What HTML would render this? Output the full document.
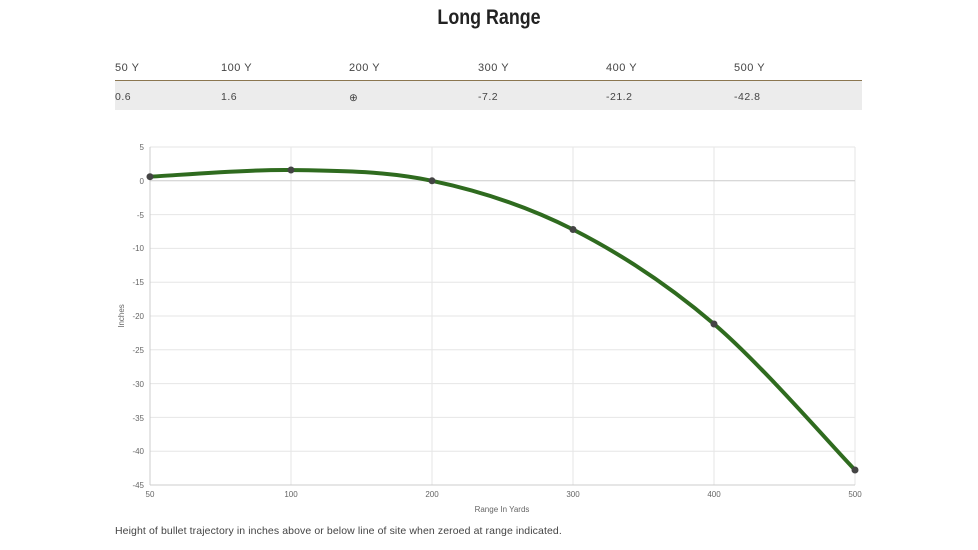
<!DOCTYPE html>
<html><head><meta charset="utf-8"><style>
body{margin:0;width:978px;height:550px;background:#fff;font-family:"Liberation Sans",sans-serif;position:relative;overflow:hidden}
.t{position:absolute;left:0;width:978px;top:6px;text-align:center;font-family:"Liberation Sans Narrow","Liberation Sans",sans-serif;font-weight:bold;font-size:21px;color:#222;transform:scaleX(0.85)}
.h,.r{position:absolute;font-size:11px;color:#444;letter-spacing:0.5px}
.h{top:62px}.r{top:91px;font-size:10.5px}
.line{position:absolute;left:115px;width:747px;top:80px;height:1px;background:#8b7650}
.bg{position:absolute;left:115px;width:747px;top:81px;height:29px;background:#ececec}
.cap{position:absolute;left:115px;top:525px;font-size:10.5px;color:#444;letter-spacing:0.1px}
</style></head><body>
<div class="t">Long Range</div>
<div class="bg"></div><div class="line"></div>
<div class="h" style="left:115px">50 Y</div><div class="h" style="left:221px">100 Y</div><div class="h" style="left:349px">200 Y</div><div class="h" style="left:478px">300 Y</div><div class="h" style="left:606px">400 Y</div><div class="h" style="left:734px">500 Y</div>
<div class="r" style="left:115px">0.6</div><div class="r" style="left:221px">1.6</div><div class="r" style="left:349px;top:92px">⊕</div><div class="r" style="left:478px">-7.2</div><div class="r" style="left:606px">-21.2</div><div class="r" style="left:734px">-42.8</div>
<svg width="978" height="550" style="position:absolute;left:0;top:0" font-family="Liberation Sans, sans-serif">
<g stroke="#e6e6e6" stroke-width="1">
<line x1="150" x2="855" y1="147" y2="147"/><line x1="150" x2="855" y1="214.6" y2="214.6"/><line x1="150" x2="855" y1="248.4" y2="248.4"/><line x1="150" x2="855" y1="282.2" y2="282.2"/><line x1="150" x2="855" y1="316" y2="316"/><line x1="150" x2="855" y1="349.8" y2="349.8"/><line x1="150" x2="855" y1="383.6" y2="383.6"/><line x1="150" x2="855" y1="417.4" y2="417.4"/><line x1="150" x2="855" y1="451.2" y2="451.2"/>
<line x1="291" x2="291" y1="147" y2="485"/><line x1="432" x2="432" y1="147" y2="485"/><line x1="573" x2="573" y1="147" y2="485"/><line x1="714" x2="714" y1="147" y2="485"/><line x1="855" x2="855" y1="147" y2="485"/>
</g>
<line x1="150" x2="855" y1="180.8" y2="180.8" stroke="#ccc"/>
<line x1="150" x2="855" y1="485" y2="485" stroke="#ccc"/>
<line x1="150" x2="150" y1="147" y2="485" stroke="#ccc"/>
<g font-size="8" fill="#666" text-anchor="end">
<text x="144" y="150">5</text><text x="144" y="184">0</text><text x="144" y="218">-5</text><text x="144" y="251">-10</text><text x="144" y="285">-15</text><text x="144" y="319">-20</text><text x="144" y="353">-25</text><text x="144" y="387">-30</text><text x="144" y="421">-35</text><text x="144" y="454">-40</text><text x="144" y="488">-45</text>
</g>
<g font-size="8" fill="#666" text-anchor="middle">
<text x="150" y="497">50</text><text x="291" y="497">100</text><text x="432" y="497">200</text><text x="573" y="497">300</text><text x="714" y="497">400</text><text x="855" y="497">500</text>
<text x="502" y="512">Range In Yards</text>
<text transform="translate(124,316) rotate(-90)">Inches</text>
</g>
<path d="M150,176.7 C173.5,175.6 244,169.3 291,170 C338,170.7 385,170.9 432,180.8 C479,190.7 526,205.6 573,229.5 C620,253.4 667,283.9 714,324 C761,364.1 831.5,445.7 855,470" fill="none" stroke="#2f6b1f" stroke-width="4"/>
<g fill="#444"><circle cx="150" cy="176.7" r="3.5"/><circle cx="291" cy="170" r="3.5"/><circle cx="432" cy="180.8" r="3.5"/><circle cx="573" cy="229.5" r="3.5"/><circle cx="714" cy="324" r="3.5"/><circle cx="855" cy="470" r="3.5"/></g>
</svg>
<div class="cap">Height of bullet trajectory in inches above or below line of site when zeroed at range indicated.</div>
</body></html>
